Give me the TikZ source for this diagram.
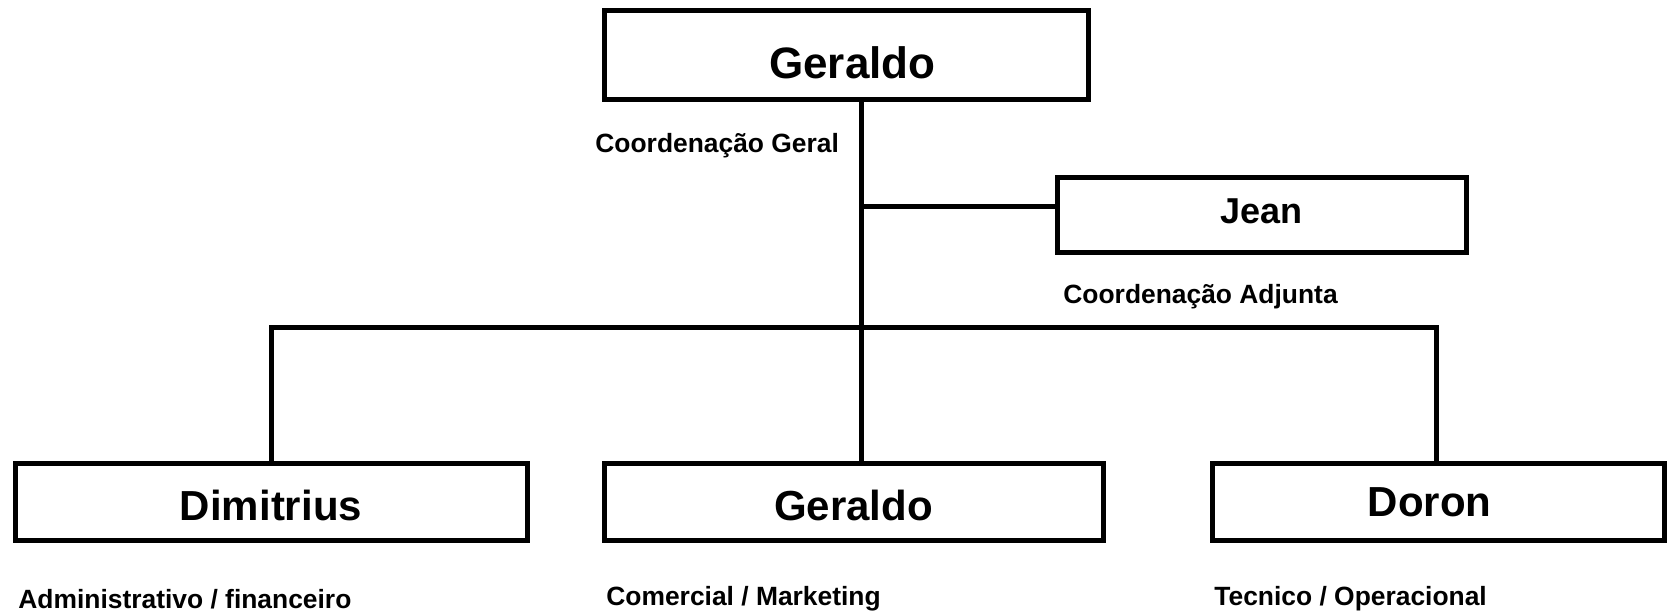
\documentclass[tikz,border=0pt]{standalone}
\usepackage{fontspec}
\setmainfont{Liberation Sans}
\usetikzlibrary{positioning}

\tikzset{
  orgbox/.style={draw, line width=2.5pt, inner sep=0pt, minimum height=38.5pt, text depth=0pt, text height=19.2pt, font=\fontsize{21}{24}\selectfont\bfseries},
  rolelabel/.style={inner sep=0pt, anchor=west, font=\fontsize{13.2}{15}\selectfont\bfseries},
  link/.style={line width=2.5pt}
}

\begin{document}
\begin{tikzpicture}[x=0.5pt,y=-0.5pt]
		\useasboundingbox (0,0) rectangle (1669,612);
		% coordenacao
		\node[orgbox, minimum width=242pt, minimum height=44.5pt, text height=23.3pt, font=\fontsize{22}{25}\selectfont\bfseries] (gerTop) at (846,55) {\hspace*{6.4pt}Geraldo};
		\node[orgbox, minimum width=204.5pt, minimum height=37.5pt, text height=12.9pt, text depth=4.3pt, font=\fontsize{18}{21}\selectfont\bfseries] (jean) at (1261.5,214.5) {Jean};
		\node[rolelabel] (lblGeral) at (595,146) {Coordenação Geral};
		\node[rolelabel] (lblAdj) at (1063,297) {Coordenação Adjunta};
		% areas
		\node[orgbox, minimum width=256pt] (dim) at (271,501.5) {Dimitrius};
		\node[orgbox, minimum width=249.5pt] (gerMid) at (853.5,501.5) {Geraldo};
		\node[orgbox, minimum width=226pt, text height=15pt] (doron) at (1438,501.5) {Doron\hspace*{8.5pt}};
		\node[rolelabel] (lblAdm) at (18,599) {Administrativo / financeiro};
		\node[rolelabel] (lblCom) at (606,599) {Comercial / Marketing};
		\node[rolelabel] (lblTec) at (1214,599) {Tecnico / Operacional};
		% ligacoes
		\coordinate (trunk) at (861,327); \coordinate (jtap) at (861,206);
		\coordinate (busL) at (271,327); \coordinate (busR) at (1436,327);
		\draw[link] (gerTop.south -| trunk) -- (gerMid.north -| trunk);
		\draw[link] (jtap) -- (jtap -| jean.west);
		\draw[link] (dim.north) -- (busL) -- (busR) -- (busR |- doron.north);
	\end{tikzpicture}
\end{document}
